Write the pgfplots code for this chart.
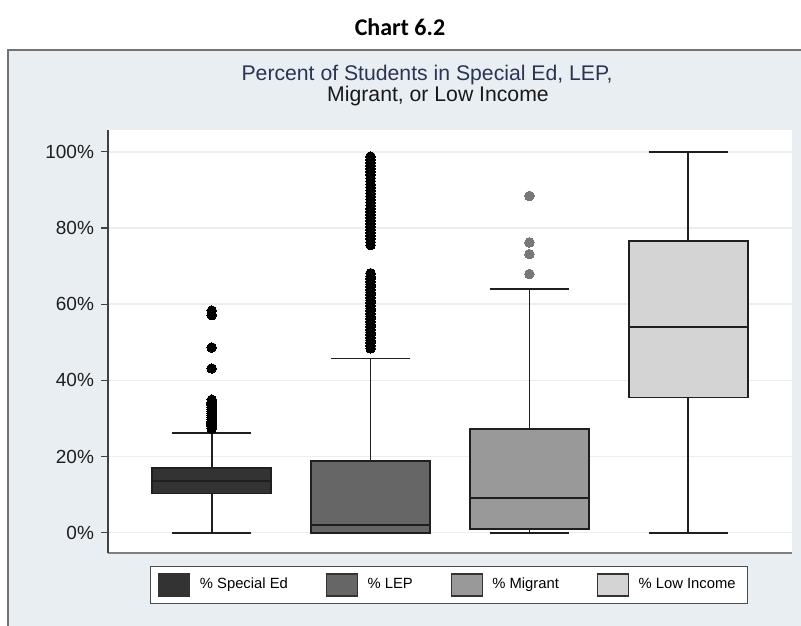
\documentclass[border=0pt]{standalone}
\usepackage{pgfplots}
\pgfplotsset{compat=1.18}
\usepgfplotslibrary{statistics}
\usepackage{fontspec}
\setmainfont{Liberation Sans}
\newfontfamily\carlito{Carlito}
\definecolor{panel}{HTML}{E8EEF1}
\definecolor{cA}{HTML}{333333}
\definecolor{cB}{HTML}{666666}
\definecolor{cC}{HTML}{999999}
\definecolor{cD}{HTML}{D4D4D4}
\definecolor{titleblue}{HTML}{2A3552}
\begin{document}
\begin{tikzpicture}
\path[use as bounding box] (0,0) rectangle (400.5pt,-312.5pt);
\draw[fill=panel, draw=black!55, line width=0.8pt] (4pt,-25pt) rectangle (410pt,-320pt);
\node[font=\carlito\bfseries\fontsize{12}{14}\selectfont, anchor=base] at (200pt,-18pt) {Chart 6.2};
\node[font=\fontsize{10.6}{12}\selectfont, text=titleblue, anchor=base] at (213.5pt,-40.35pt) {Percent of Students in Special Ed, LEP,};
\node[font=\fontsize{10.6}{12}\selectfont, text=black!90, anchor=base] at (219pt,-50.8pt) {Migrant, or Low Income};
\begin{axis}[
  at={(54pt,-276.5pt)}, anchor=south west,
  scale only axis, width=342pt, height=211.5pt,
  xmin=0.347, xmax=4.653, ymin=-5.33, ymax=105.7,
  axis background/.style={fill=white},
  axis x line=bottom, axis y line=left,
  x axis line style={-, draw=black!50, line width=0.8pt},
  y axis line style={-, draw=black!75, line width=0.7pt},
  xtick=\empty,
  ytick={0,20,40,60,80,100},
  yticklabels={0\%,20\%,40\%,60\%,80\%,100\%},
  tick align=outside, major tick length=3.5pt,
  ytick style={draw=black!75, line width=0.6pt},
  ymajorgrids, grid style={draw=black!7, line width=0.8pt},
  ticklabel style={font=\fontsize{9.5}{11}\selectfont, text=black!88},
  boxplot/draw direction=y,
  boxplot/every whisker/.style={line width=0.9pt, draw=black!88},
  boxplot/every median/.style={line width=0.9pt, draw=black!88},
  boxplot/every box/.style={line width=0.9pt, draw=black!88},
  legend image code/.code={\draw[#1, draw=black!80, line width=0.6pt] (0pt,-5.5pt) rectangle (15.5pt,5.5pt); \path[draw=none, fill=none] (15.5pt,0pt) -- (18.5pt,0pt);},
  legend columns=4,
  legend style={at={(axis description cs:0.4985,-0.0757)}, anchor=center, draw=black!70, line width=0.6pt, fill=white, font=\fontsize{7.4}{9}\selectfont, /tikz/every even column/.append style={column sep=17pt}, inner xsep=4pt, inner ysep=3.5pt},
  legend entries={\% Special Ed, \% LEP, \% Migrant, \% Low Income},
]
\addlegendimage{fill=cA}
\addlegendimage{fill=cB}
\addlegendimage{fill=cC}
\addlegendimage{fill=cD}

\addplot[boxplot prepared={draw position=1, lower whisker=0, lower quartile=10.3, median=13.6, upper quartile=16.9, upper whisker=26.2, box extend=0.75, whisker extend=0.5},
  draw=black!88, fill=cA, line width=0.9pt, mark=*, mark size=2.4pt, mark options={fill=black, draw=black, line width=0pt}]
  coordinates {(0,27.3)(0,27.8)(0,28.3)(0,28.8)(0,29.3)(0,29.8)(0,30.3)(0,30.8)(0,31.3)(0,31.8)(0,32.3)(0,32.8)(0,33.3)(0,33.8)(0,34.3)(0,34.9)(0,43.1)(0,48.6)(0,57.1)(0,58.3)};

\addplot[boxplot prepared={draw position=2, lower whisker=0, lower quartile=0, median=2.0, upper quartile=18.9, upper whisker=45.7, box extend=0.75, whisker extend=0.5},
  draw=black!88, fill=cB, line width=0.9pt, mark=*, mark size=2.4pt, mark options={fill=black, draw=black, line width=0pt}]
  coordinates {(0,48.4)(0,49.1)(0,49.8)(0,50.5)(0,51.2)(0,51.9)(0,52.6)(0,53.3)(0,54.0)(0,54.7)(0,55.4)(0,56.1)(0,56.8)(0,57.5)(0,58.2)(0,58.9)(0,59.6)(0,60.3)(0,61.0)(0,61.7)(0,62.4)(0,63.1)(0,63.8)(0,64.5)(0,65.2)(0,65.9)(0,66.6)(0,67.3)(0,68.1)
  (0,75.5)(0,76.3)(0,77.1)(0,77.9)(0,78.7)(0,79.5)(0,80.3)(0,81.1)(0,81.9)(0,82.7)(0,83.5)(0,84.3)(0,85.1)(0,85.9)(0,86.7)(0,87.5)(0,88.3)(0,89.1)(0,89.9)(0,90.7)(0,91.5)(0,92.3)(0,93.1)(0,93.9)(0,94.7)(0,95.5)(0,96.3)(0,97.1)(0,97.9)(0,98.7)};

\addplot[boxplot prepared={draw position=3, lower whisker=0, lower quartile=1.0, median=9.2, upper quartile=27.2, upper whisker=63.9, box extend=0.75, whisker extend=0.5},
  draw=black!88, fill=cC, line width=0.9pt, mark=*, mark size=2.4pt, mark options={fill=black!53, draw=black!53, line width=0pt}]
  coordinates {(0,67.9)(0,73.1)(0,76.2)(0,88.4)};

\addplot[boxplot prepared={draw position=4, lower whisker=0, lower quartile=35.5, median=53.9, upper quartile=76.6, upper whisker=100, box extend=0.75, whisker extend=0.5},
  draw=black!88, fill=cD, line width=0.9pt]
  coordinates {};
\end{axis}
\end{tikzpicture}
\end{document}
